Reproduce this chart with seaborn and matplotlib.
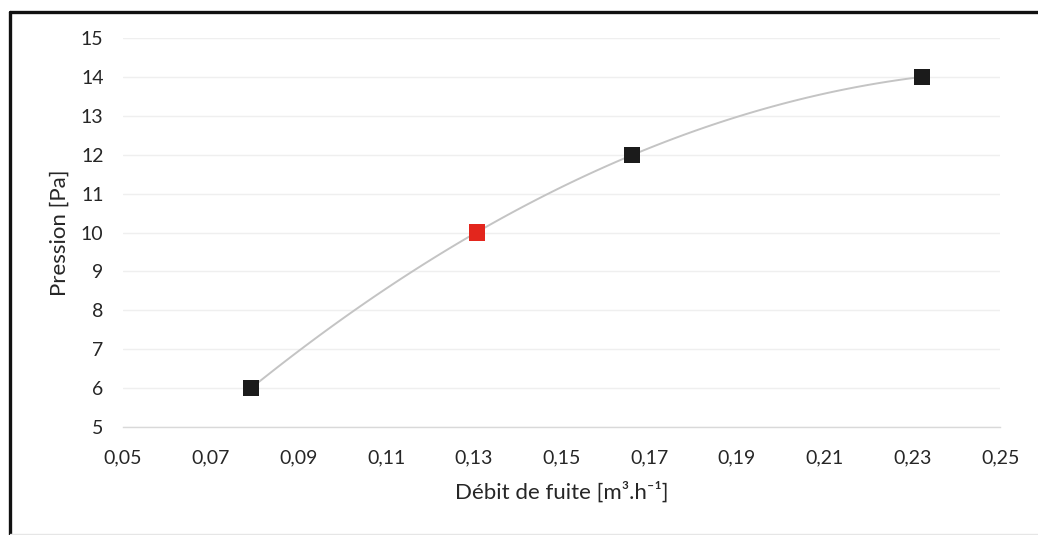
import numpy as np
import pandas as pd
import matplotlib
matplotlib.use('Agg')
import matplotlib.pyplot as plt
import seaborn as sb
from matplotlib.lines import Line2D

# Measured points (leak flow vs pressure)
debit = [0.0792, 0.1307, 0.1661, 0.2322]
pression = [6, 10, 12, 14]
highlight = [False, True, False, False]

x_ticks = [0.05, 0.07, 0.09, 0.11, 0.13, 0.15, 0.17, 0.19, 0.21, 0.23, 0.25]
y_ticks = [5, 6, 7, 8, 9, 10, 11, 12, 13, 14, 15]


sb.set_theme(style='white')
plt.rcParams['font.family'] = ['Lato', 'DejaVu Sans']

df = pd.DataFrame({'debit': debit, 'pression': pression,
                   'groupe': ['rouge' if h else 'noir' for h in highlight]})

fig = plt.figure(figsize=(10.38, 5.35), dpi=100)
ax = fig.add_axes([0.1185, 0.2019, 0.845, 0.727])

# Smooth curve through the points (2nd order fit)
sb.regplot(data=df, x='debit', y='pression', order=2, ci=None, scatter=False,
           truncate=True, line_kws={'color': '#c4c4c4', 'linewidth': 1.4, 'zorder': 2},
           ax=ax)
sb.scatterplot(data=df, x='debit', y='pression', hue='groupe',
               palette={'noir': '#1b1b1b', 'rouge': '#e3261d'},
               marker='s', s=140, edgecolor='none', legend=False,
               zorder=3, ax=ax)

ax.set_xlim(0.05, 0.25)
ax.set_ylim(5, 15)
ax.set_xticks(x_ticks)
ax.set_yticks(y_ticks)
ax.set_xticklabels([f'{v:.2f}'.replace('.', ',') for v in x_ticks])
ax.set_yticklabels([str(v) for v in y_ticks])
ax.tick_params(axis='both', length=0, labelsize=14, colors='#262626')
ax.tick_params(axis='x', pad=16)
ax.tick_params(axis='y', pad=14)

ax.grid(axis='y', color='#efefef', linewidth=1)
for s in ['top', 'right', 'left']:
    ax.spines[s].set_visible(False)
ax.spines['bottom'].set_color('#d9d9d9')
ax.spines['bottom'].set_linewidth(1)

ax.set_xlabel('Débit de fuite [m³.h⁻¹]', fontsize=16, color='#262626', labelpad=11)
ax.set_ylabel('Pression [Pa]', fontsize=16, color='#262626', labelpad=8)

# Scanned frame edges
fig.add_artist(Line2D([10 / 1038, 10 / 1038], [0, 1 - 12 / 535],
                      transform=fig.transFigure, color='#111111', linewidth=2.4))
fig.add_artist(Line2D([10 / 1038, 1], [1 - 12 / 535, 1 - 12 / 535],
                      transform=fig.transFigure, color='#111111', linewidth=2.4))
fig.add_artist(Line2D([10 / 1038, 1], [1 / 535, 1 / 535],
                      transform=fig.transFigure, color='#e6e6e6', linewidth=1))

plt.savefig('out.png', dpi=100)
